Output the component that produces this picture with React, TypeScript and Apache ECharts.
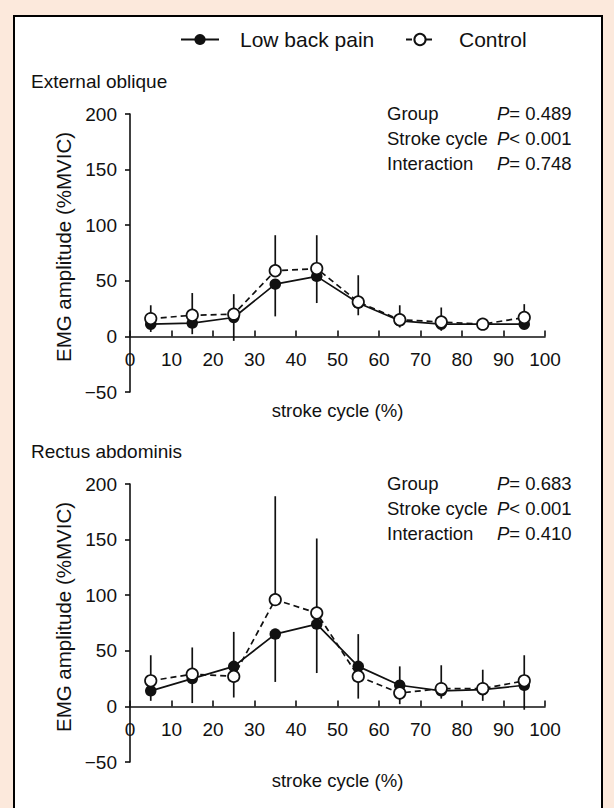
import React, { useEffect, useRef } from "react";
import * as echarts from "echarts";

// stroke-cycle bins (%)
const cycle = [5, 15, 25, 35, 45, 55, 65, 75, 85, 95];

// External oblique (%MVIC)
const eoLbp = [11, 12, 17, 47, 54, 30, 14, 11, 11, 11];
const eoCtrl = [16, 19, 20, 59, 61, 31, 15, 13, 11, 17];
const eoLbpBarEnd = [4, 2, -4, 18, 30, 19, 8, 5, 8, 7];
const eoCtrlBarEnd = [28, 39, 38, 91, 91, 55, 28, 26, 15, 29];

// Rectus abdominis (%MVIC)
const raLbp = [14, 25, 36, 65, 74, 36, 19, 14, 15, 19];
const raCtrl = [23, 29, 27, 96, 84, 27, 12, 16, 16, 23];
const raLbpBarEnd = [5, 3, 67, 22, 30, 65, 36, 7, 5, -3];
const raCtrlBarEnd = [46, 53, 8, 189, 151, 7, 2, 37, 33, 46];

const panelTitles = ["External oblique", "Rectus abdominis"];
const statLabels = ["Group", "Stroke cycle", "Interaction"];
const eoStats = ["= 0.489", "< 0.001", "= 0.748"];
const raStats = ["= 0.683", "< 0.001", "= 0.410"];

const Y_MIN = -50;
const Y_MAX = 200;

const FONT = "'Liberation Sans', Arial, Helvetica, sans-serif";
const INK = "#111111";

const GRID_LEFT = 130;
const GRID_W = 415;
const GRID_H = 278;
const GRID_TOPS = [114, 484];

function errSeries(name: string, means: number[], ends: number[], idx: number) {
  return {
    type: "custom",
    name,
    xAxisIndex: idx,
    yAxisIndex: idx,
    silent: true,
    z: 1,
    data: cycle.map((x, i) => [x, means[i], ends[i]]),
    encode: { x: 0, y: [1, 2] },
    renderItem: (_p: any, api: any) => {
      const a = api.coord([api.value(0), api.value(1)]);
      const b = api.coord([api.value(0), api.value(2)]);
      return {
        type: "line",
        shape: { x1: a[0], y1: a[1], x2: b[0], y2: b[1] },
        style: { stroke: INK, lineWidth: 1.7 },
      };
    },
  };
}

function lbpSeries(vals: number[], idx: number) {
  return {
    type: "line",
    name: "Low back pain",
    xAxisIndex: idx,
    yAxisIndex: idx,
    z: 3,
    data: cycle.map((x, i) => [x, vals[i]]),
    symbol: "circle",
    symbolSize: 11.5,
    itemStyle: { color: INK },
    lineStyle: { color: INK, width: 1.7 },
  };
}

function ctrlSeries(vals: number[], idx: number) {
  return {
    type: "line",
    name: "Control",
    xAxisIndex: idx,
    yAxisIndex: idx,
    z: 4,
    data: cycle.map((x, i) => [x, vals[i]]),
    symbol: "circle",
    symbolSize: 11.5,
    itemStyle: { color: "#ffffff", borderColor: INK, borderWidth: 1.7 },
    lineStyle: { color: INK, width: 1.7, type: [6, 4] },
  };
}

function statTexts(stats: string[], top: number) {
  const out: any[] = [];
  stats.forEach((s, i) => {
    const y = top + i * 25;
    out.push({
      type: "text",
      x: 387,
      y,
      style: { text: statLabels[i], font: `18.5px ${FONT}`, fill: INK, verticalAlign: "middle" },
    });
    out.push({
      type: "text",
      x: 497,
      y,
      style: {
        text: `{i|P}${s}`,
        font: `18.5px ${FONT}`,
        fill: INK,
        verticalAlign: "middle",
        rich: { i: { fontStyle: "italic", fontSize: 18.5, fontFamily: FONT, fill: INK } },
      },
    });
  });
  return out;
}

export default function App() {
  const ref = useRef<HTMLDivElement>(null);
  useEffect(() => {
    if (!ref.current) return;
    const chart = echarts.init(ref.current, null, { renderer: "svg" });
    const axisLine = { lineStyle: { color: INK, width: 1.6 } };
    // x axis sits on y = 0: shift it up from the grid bottom
    const zeroOffset = -GRID_H * (0 - Y_MIN) / (Y_MAX - Y_MIN);
    const xAxes = GRID_TOPS.map((_, i) => ({
      type: "value",
      gridIndex: i,
      min: 0,
      max: 100,
      interval: 10,
      position: "bottom",
      offset: zeroOffset,
      name: "stroke cycle (%)",
      nameLocation: "middle",
      nameGap: 65,
      nameTextStyle: { fontSize: 18.5, color: INK, fontFamily: FONT },
      axisLine: { show: true, onZero: false, ...axisLine },
      axisTick: { show: true, inside: true, length: 6, lineStyle: { color: INK, width: 1.6 } },
      axisLabel: { fontSize: 19, color: INK, fontFamily: FONT, margin: 14 },
      splitLine: { show: false },
    }));
    const yAxes = GRID_TOPS.map((_, i) => ({
      type: "value",
      gridIndex: i,
      min: Y_MIN,
      max: Y_MAX,
      interval: 50,
      name: "EMG amplitude (%MVIC)",
      nameLocation: "middle",
      nameGap: 52,
      nameTextStyle: { fontSize: 20.5, color: INK, fontFamily: FONT, padding: [0, 0, 0, 12] },
      axisLine: { show: true, onZero: false, ...axisLine },
      axisTick: { show: true, inside: false, length: 5, lineStyle: { color: INK, width: 1.6 } },
      axisLabel: {
        fontSize: 19,
        color: INK,
        fontFamily: FONT,
        margin: 13,
        formatter: (v: number) => (v < 0 ? "\u2212" + Math.abs(v) : String(v)),
      },
      splitLine: { show: false },
    }));
    const legendText = {
      fontSize: 21,
      color: INK,
      fontFamily: FONT,
    };
    chart.setOption({
      animation: false,
      backgroundColor: "#fce9dc",
      legend: [
        {
          data: ["Low back pain"],
          left: 175,
          top: 24,
          itemWidth: 38,
          itemHeight: 14,
          formatter: (n: string) => `{t|${n}}`,
          textStyle: { ...legendText, rich: { t: { ...legendText, padding: [0, 0, 0, 16] } } },
        },
        {
          data: ["Control"],
          left: 400,
          top: 24,
          itemWidth: 28,
          itemHeight: 14,
          formatter: (n: string) => `{t|${n}}`,
          textStyle: { ...legendText, rich: { t: { ...legendText, padding: [0, 0, 0, 20] } } },
        },
      ],
      grid: GRID_TOPS.map((t) => ({ left: GRID_LEFT, top: t, width: GRID_W, height: GRID_H })),
      xAxis: xAxes,
      yAxis: yAxes,
      graphic: [
        {
          type: "rect",
          z: -100,
          shape: { x: 14, y: 16, width: 588, height: 810 },
          style: { fill: "#ffffff", stroke: "#000000", lineWidth: 2 },
        },
        ...panelTitles.map((t, i) => ({
          type: "text",
          x: 31,
          y: 81 + i * 370,
          style: { text: t, font: `19px ${FONT}`, fill: INK, verticalAlign: "middle" },
        })),
        ...statTexts(eoStats, 113),
        ...statTexts(raStats, 483),
      ],
      series: [
        errSeries("LBP SD", eoLbp, eoLbpBarEnd, 0),
        errSeries("Control SD", eoCtrl, eoCtrlBarEnd, 0),
        lbpSeries(eoLbp, 0),
        ctrlSeries(eoCtrl, 0),
        errSeries("LBP SD", raLbp, raLbpBarEnd, 1),
        errSeries("Control SD", raCtrl, raCtrlBarEnd, 1),
        lbpSeries(raLbp, 1),
        ctrlSeries(raCtrl, 1),
      ],
    });
    return () => chart.dispose();
  }, []);
  return <div ref={ref} style={{ position: "fixed", left: 0, top: 0, width: 614, height: 808 }} />;
}
